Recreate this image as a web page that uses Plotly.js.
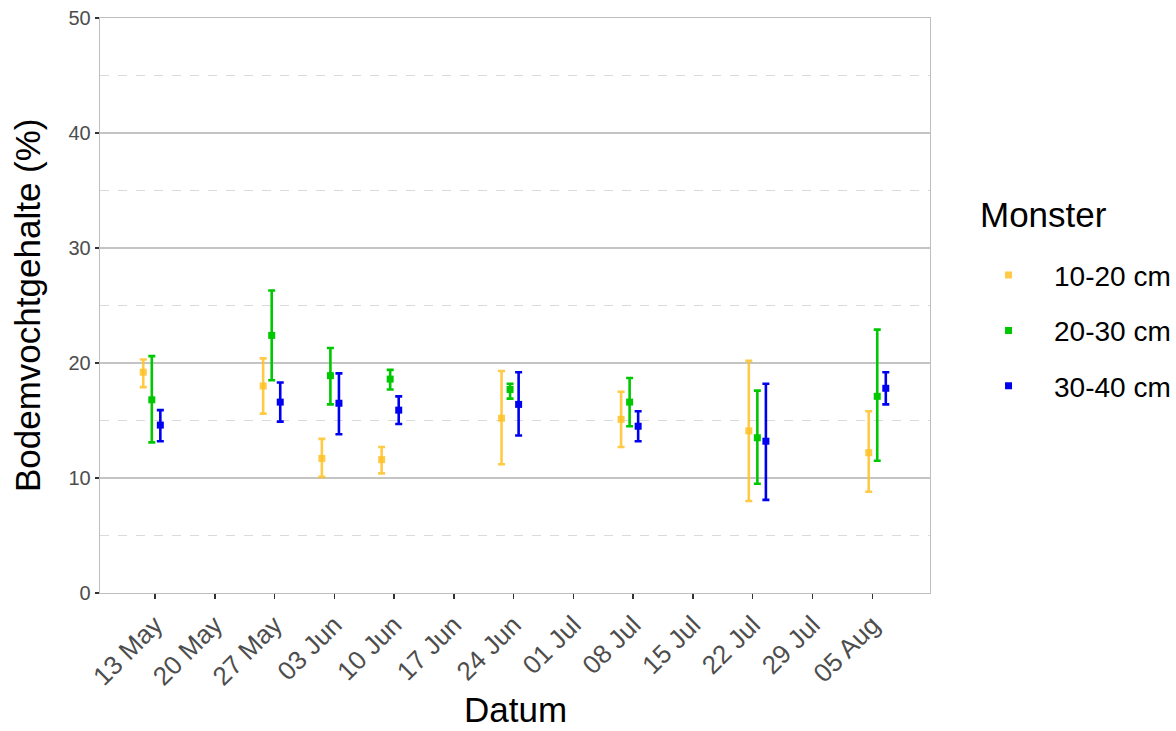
<!DOCTYPE html>
<html>
<head>
<meta charset="utf-8">
<script src="https://cdn.plot.ly/plotly-3.0.1.min.js"></script>
<style>html,body{margin:0;padding:0;background:#fff;}#chart{width:1176px;height:731px;}</style>
</head>
<body>
<div id="chart"></div>
<script>
// Sampling dates (group centres)
const dates = ['2021-05-12 15:00','2021-05-26 16:00','2021-06-02 13:00','2021-06-09 13:00',
               '2021-06-23 14:00','2021-07-07 14:00','2021-07-22 13:00','2021-08-05 14:00'];
const seriesNames = ['10-20 cm','20-30 cm','30-40 cm'];
const legendTitle = 'Monster';
const xTitle = 'Datum';
const yTitle = 'Bodemvochtgehalte (%)';

// 10-20 cm
const mean1020 = [19.2, 18.0, 11.7, 11.6, 15.2, 15.1, 14.1, 12.2];
const low1020  = [17.9, 15.6, 10.1, 10.4, 11.2, 12.7,  8.0,  8.8];
const high1020 = [20.3, 20.4, 13.4, 12.7, 19.3, 17.5, 20.2, 15.8];
// 20-30 cm
const mean2030 = [16.8, 22.4, 18.9, 18.6, 17.7, 16.6, 13.5, 17.1];
const low2030  = [13.1, 18.5, 16.4, 17.7, 16.9, 14.5,  9.5, 11.5];
const high2030 = [20.6, 26.3, 21.3, 19.4, 18.2, 18.7, 17.6, 22.9];
// 30-40 cm
const mean3040 = [14.6, 16.6, 16.5, 15.9, 16.4, 14.5, 13.2, 17.8];
const low3040  = [13.2, 14.9, 13.8, 14.7, 13.7, 13.2,  8.1, 16.4];
const high3040 = [15.9, 18.3, 19.1, 17.1, 19.2, 15.8, 18.2, 19.2];

const tickDates = ['2021-05-13','2021-05-20','2021-05-27','2021-06-03','2021-06-10','2021-06-17',
                   '2021-06-24','2021-07-01','2021-07-08','2021-07-15','2021-07-22','2021-07-29','2021-08-05'];

const colors = ['rgba(255,193,37,0.85)','#00C800','#0000F0'];
const dodgeHours = [-24, 0, 24];

function shift(d, h){
  const t = new Date(d.replace(' ','T')+'Z').getTime() + h*3600*1000;
  return new Date(t).toISOString().slice(0,19).replace('T',' ');
}

const means = [mean1020, mean2030, mean3040];
const lows = [low1020, low2030, low3040];
const highs = [high1020, high2030, high3040];

const traces = seriesNames.map((name, i) => ({
  type: 'scatter',
  mode: 'markers',
  name: name,
  legendgroup: 'g'+i,
  x: dates.map(d => shift(d, dodgeHours[i])),
  y: means[i],
  marker: {symbol: 'square', size: 7, color: colors[i]},
  error_y: {
    type: 'data', symmetric: false,
    array: highs[i].map((h, k) => h - means[i][k]),
    arrayminus: lows[i].map((l, k) => means[i][k] - l),
    color: colors[i], thickness: 2.6, width: 3.5
  }
}));

const layout = {
  width: 1176, height: 731,
  margin: {l: 100, r: 246, t: 18, b: 138, autoexpand: false},
  paper_bgcolor: '#fff', plot_bgcolor: '#fff',
  font: {family: 'Liberation Sans, Arial, sans-serif', color: '#000'},
  showlegend: true,
  legend: {
    x: 1.0398, xanchor: 'left', y: 0.596, yanchor: 'top',
    font: {size: 28, color: '#000'},
    tracegroupgap: 16,
    itemwidth: 81,
    bgcolor: 'rgba(0,0,0,0)'
  },
  annotations: [
    {text: legendTitle, xref: 'paper', yref: 'paper', x: 1.0574, y: 0.659,
     xanchor: 'left', yanchor: 'middle', showarrow: false, font: {size: 35, color: '#000'}},
    {text: yTitle, xref: 'paper', yref: 'paper', x: -0.0867, y: 0.5009, textangle: -90,
     xanchor: 'center', yanchor: 'middle', showarrow: false, font: {size: 35, color: '#000'}},
    {text: xTitle, xref: 'paper', yref: 'paper', x: 0.5, y: -0.2395,
     xanchor: 'center', yanchor: 'bottom', showarrow: false, font: {size: 35, color: '#000'}}
  ],
  xaxis: {
    type: 'date',
    range: ['2021-05-06 13:25', '2021-08-11 18:15'],
    tickvals: tickDates,
    tickformat: '%d %b',
    tickangle: -45,
    tickfont: {size: 26, color: '#4D4D4D'},
    ticks: 'outside', ticklen: 5, tickwidth: 1.5, tickcolor: '#333333',
    showgrid: false, zeroline: false,
    showline: true, mirror: true, linecolor: '#BEBEBE', linewidth: 1.3
  },
  yaxis: {
    range: [0, 50],
    tickvals: [0, 10, 20, 30, 40, 50],
    tickfont: {size: 20, color: '#4D4D4D'},
    ticks: 'outside', ticklen: 4, tickwidth: 1.5, tickcolor: '#333333',
    showgrid: true, gridcolor: '#C4C4C4', gridwidth: 1.2,
    minor: {tickvals: [5, 15, 25, 35, 45], showgrid: true, gridcolor: '#DADADA', griddash: 'dash', gridwidth: 1, ticks: ''},
    zeroline: false,
    showline: true, mirror: true, linecolor: '#BEBEBE', linewidth: 1.3
  }
};

Plotly.newPlot('chart', traces, layout, {displayModeBar: false, staticPlot: true});
</script>
</body>
</html>
